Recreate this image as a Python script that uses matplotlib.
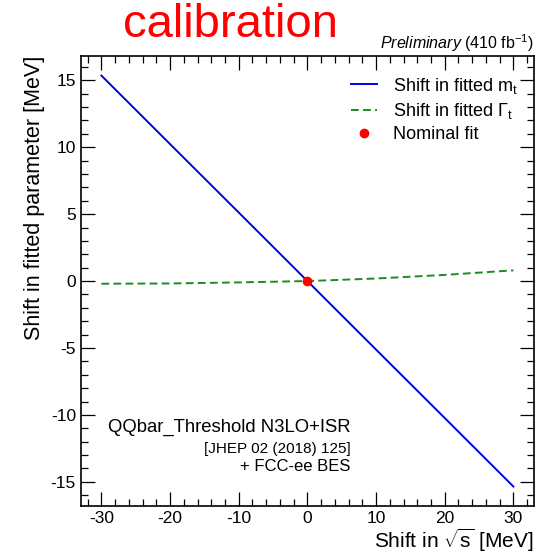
import matplotlib
matplotlib.use("Agg")
import matplotlib.pyplot as plt
from matplotlib.ticker import MultipleLocator

plt.rcParams['font.family'] = ['Liberation Sans', 'DejaVu Sans']
plt.rcParams['mathtext.fontset'] = 'custom'
plt.rcParams['mathtext.rm'] = 'Liberation Sans'
plt.rcParams['mathtext.it'] = 'Liberation Sans:italic'
plt.rcParams['axes.unicode_minus'] = False

# Shift in sqrt(s) [MeV]
sqrt_s_shift = [-30, -20, -10, 0, 10, 20, 30]
# Shift in fitted top mass [MeV]
mt_shift = [15.35, 10.23, 5.12, 0.0, -5.12, -10.23, -15.35]
# Shift in fitted top width [MeV]
gamma_shift = [-0.20, -0.18, -0.10, 0.0, 0.19, 0.46, 0.80]
nominal_x = [0.0]
nominal_y = [0.0]

fig = plt.figure(figsize=(5.46, 5.56), dpi=100)
ax = fig.add_axes([0.148, 0.09, 0.83, 0.809])

ax.plot(sqrt_s_shift, mt_shift, color='#0000ee', lw=1.4, label=r'Shift in fitted m$_\mathrm{t}$')
ax.plot(sqrt_s_shift, gamma_shift, color='#1f8a1f', lw=1.4, ls=(0, (4, 2.2)),
        label=r'Shift in fitted $\Gamma_\mathrm{t}$')
ax.plot(nominal_x, nominal_y, 'o', color='red', ms=6, ls='none', label='Nominal fit', zorder=5)

ax.set_xlim(-33, 33)
ax.set_ylim(-16.8, 16.8)
ax.xaxis.set_major_locator(MultipleLocator(10))
ax.xaxis.set_minor_locator(MultipleLocator(2))
ax.yaxis.set_major_locator(MultipleLocator(5))
ax.yaxis.set_minor_locator(MultipleLocator(1))
ax.tick_params(which='both', direction='in', top=True, right=True, labelsize=12.5, width=0.9)
ax.tick_params(which='major', length=10)
ax.tick_params(which='minor', length=5)
for s in ax.spines.values():
    s.set_linewidth(1.2)

ax.set_xlabel(r'Shift in $\sqrt{\mathrm{s}}$ [MeV]', fontsize=15, loc='right', labelpad=1)
ax.set_ylabel('Shift in fitted parameter [MeV]', fontsize=15.5, loc='top')

leg = ax.legend(loc='upper right', frameon=False, fontsize=13, handlelength=1.4,
                bbox_to_anchor=(1.0, 0.993), labelspacing=0.3, handletextpad=0.9)

ax.text(0.595, 0.175, 'QQbar_Threshold N3LO+ISR', transform=ax.transAxes, fontsize=13.3,
        ha='right', va='center')
ax.text(0.595, 0.127, '[JHEP 02 (2018) 125]', transform=ax.transAxes, fontsize=11,
        ha='right', va='center')
ax.text(0.595, 0.087, '+ FCC-ee BES', transform=ax.transAxes, fontsize=12,
        ha='right', va='center')

fig.text(0.422, 0.933, 'calibration', color='red', fontsize=34, ha='center', va='baseline')
fig.text(0.978, 0.923, r'$\it{Preliminary}$ (410 fb$^{-1}$)', fontsize=11.5, ha='right', va='center')

fig.savefig('out.png', dpi=100)
